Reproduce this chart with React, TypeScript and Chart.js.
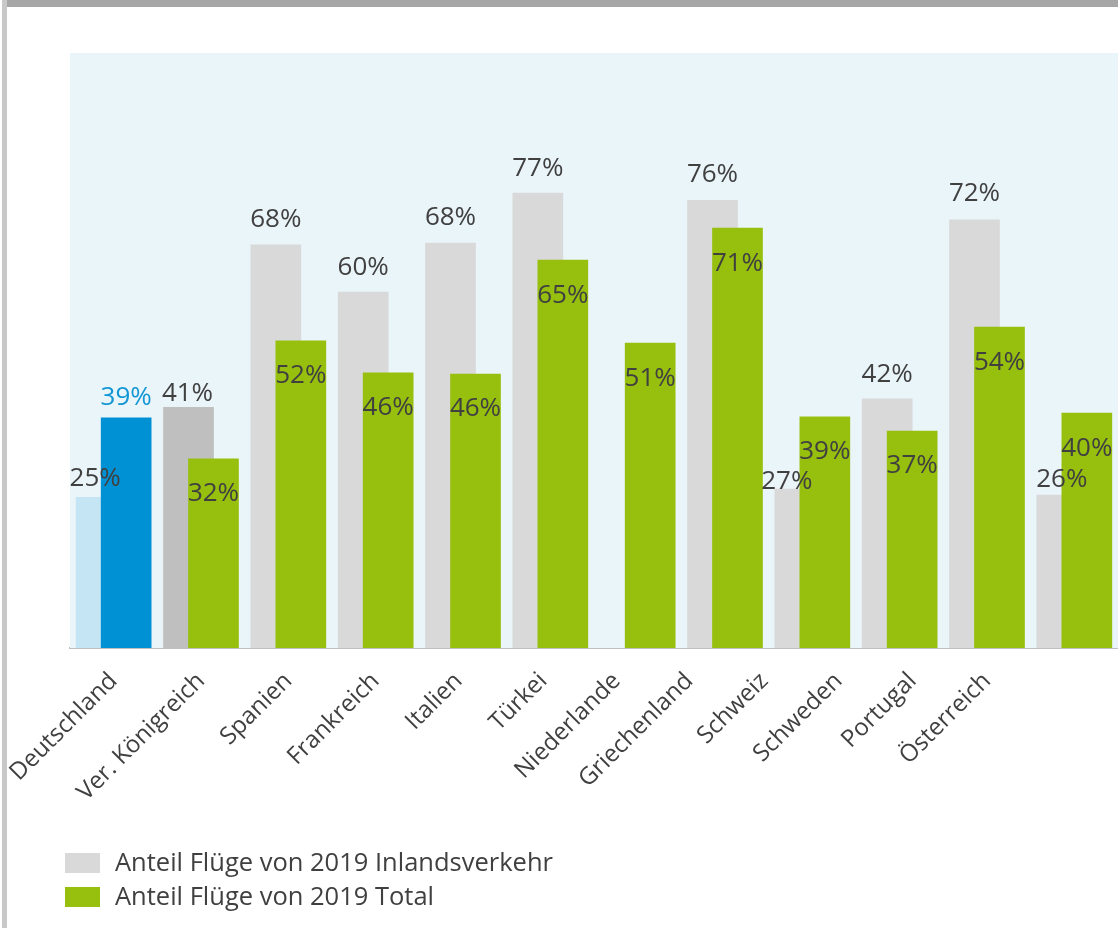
import React, { useEffect, useRef } from "react";
import { Chart, registerables } from "chart.js";

Chart.register(...registerables);

// ---------- data ----------
const categories = [
  "Deutschland",
  "Ver. Königreich",
  "Spanien",
  "Frankreich",
  "Italien",
  "Türkei",
  "Niederlande",
  "Griechenland",
  "Schweiz",
  "Schweden",
  "Portugal",
  "Österreich",
];
const inlandShare: (number | null)[] = [25.4, 40.6, 68.0, 60.0, 68.3, 76.7, null, 75.5, 26.8, 42.0, 72.2, 25.8];
const totalShare: number[] = [38.8, 31.9, 51.8, 46.4, 46.2, 65.4, 51.4, 70.8, 39.0, 36.6, 54.1, 39.6];
const seriesNames = ["Anteil Flüge von 2019 Inlandsverkehr", "Anteil Flüge von 2019 Total"];

// ---------- styling ----------
const TEXT = "#404040";
const FONT = '"Open Sans", sans-serif';
const inlandColors = categories.map((_, i) => (i === 0 ? "#C5E5F4" : i === 1 ? "#BFBFBF" : "#D9D9D9"));
const totalColors = categories.map((_, i) => (i === 0 ? "#0091D5" : "#97BF0D"));
const legendColors = ["#D9D9D9", "#97BF0D"];
// label nudges [dx, dy] relative to the top of the inland bar
const inlandLabelNudge = [
  [-6, -19], [-1, -14], [0, -25], [0, -25], [0, -25], [0, -25],
  [0, -25], [0, -26], [-13, -7], [0, -24], [0, -26], [0, -15],
];
// category label drift (in category units), as in the original layout
const tickShift = [0, 0, 0, 0, -0.05, -0.08, -0.24, -0.41, -0.55, -0.7, -0.85, -1.0];
const PAIR_OFFSET = 0.1431;

const backgroundPlugin = {
  id: "plotBackground",
  beforeDatasetsDraw(chart: any) {
    const { ctx, chartArea } = chart;
    ctx.save();
    ctx.fillStyle = "#EAF5FA";
    ctx.fillRect(chartArea.left, chartArea.top - 2, chartArea.right - chartArea.left, chartArea.bottom - chartArea.top + 2);
    ctx.restore();
  },
};

const valueLabelPlugin = {
  id: "valueLabels",
  afterDatasetsDraw(chart: any) {
    const ctx = chart.ctx;
    ctx.save();
    ctx.font = `26px ${FONT}`;
    ctx.textAlign = "center";
    ctx.textBaseline = "middle";
    // dataset 0 = total, dataset 1 = inland
    const totalMeta = chart.getDatasetMeta(0);
    const inlandMeta = chart.getDatasetMeta(1);
    inlandMeta.data.forEach((el: any, i: number) => {
      const v = inlandShare[i];
      if (v == null) return;
      const [dx, dy] = inlandLabelNudge[i];
      ctx.fillStyle = TEXT;
      ctx.fillText(`${Math.round(v)}%`, el.x + dx, el.y + dy);
    });
    totalMeta.data.forEach((el: any, i: number) => {
      const v = totalShare[i];
      if (v == null) return;
      if (i === 0) {
        ctx.fillStyle = "#1396D4";
        ctx.fillText(`${Math.round(v)}%`, el.x, el.y - 20);
      } else {
        ctx.fillStyle = TEXT;
        ctx.fillText(`${Math.round(v)}%`, el.x, el.y + 35);
      }
    });
    ctx.restore();
  },
};

const legendPlugin = {
  id: "stackedLegend",
  afterDraw(chart: any) {
    const { ctx, chartArea } = chart;
    ctx.save();
    ctx.font = `25.5px ${FONT}`;
    ctx.textAlign = "left";
    ctx.textBaseline = "middle";
    const top = chartArea.bottom + 205;
    seriesNames.forEach((name, k) => {
      const y = top + k * 34;
      ctx.fillStyle = legendColors[k];
      ctx.fillRect(chartArea.left - 5, y, 35, 20);
      ctx.fillStyle = TEXT;
      ctx.fillText(name, chartArea.left + 45, y + 11);
    });
    ctx.restore();
  },
};

export default function App() {
  const canvasRef = useRef<HTMLCanvasElement | null>(null);

  useEffect(() => {
    if (!canvasRef.current) return;
    const chart = new Chart(canvasRef.current, {
      type: "bar",
      data: {
        datasets: [
          {
            label: seriesNames[1],
            data: totalShare.map((v, i) => ({ x: i + PAIR_OFFSET, y: v })),
            backgroundColor: totalColors,
            borderWidth: 0,
            barThickness: 50,
            grouped: false,
          },
          {
            label: seriesNames[0],
            data: inlandShare.map((v, i) => ({ x: i - PAIR_OFFSET, y: v })),
            backgroundColor: inlandColors,
            borderWidth: 0,
            barThickness: 50,
            grouped: false,
          },
        ] as any,
      },
      options: {
        responsive: false,
        animation: false,
        devicePixelRatio: 1,
        layout: { padding: { top: 55, left: 70, right: 0, bottom: 0 } },
        plugins: {
          legend: { display: false },
          tooltip: { enabled: false },
        },
        scales: {
          x: {
            type: "linear",
            min: -0.5,
            max: 11.5,
            offset: false,
            grid: { display: false, drawTicks: false },
            border: { display: true, color: "#BFBFBF", width: 2 },
            afterBuildTicks: (s: any) => {
              s.ticks = categories.map((_, i) => ({ value: i + tickShift[i] }));
            },
            afterFit: (s: any) => {
              s.height = 280;
              s.paddingLeft = 0;
              s.paddingRight = 0;
            },
            ticks: {
              autoSkip: false,
              minRotation: 45,
              maxRotation: 45,
              padding: 19,
              color: TEXT,
              font: { family: FONT, size: 24 },
              callback: (_v: any, i: number) => categories[i],
            },
          },
          y: { display: false, min: 0, max: 100 },
        },
      } as any,
      plugins: [backgroundPlugin, valueLabelPlugin, legendPlugin],
    });
    return () => chart.destroy();
  }, []);

  return (
    <div style={{ position: "absolute", left: 0, top: 0, width: 1118, height: 928, background: "#fff", overflow: "hidden" }}>
      <canvas ref={canvasRef} width={1118} height={928} style={{ display: "block", width: 1118, height: 928 }} />
      <div style={{ position: "absolute", left: 2, top: 0, width: 1116, height: 7, background: "#A6A6A6" }} />
      <div style={{ position: "absolute", left: 2, top: 0, width: 5, height: 928, background: "#C8C8C8" }} />
    </div>
  );
}
